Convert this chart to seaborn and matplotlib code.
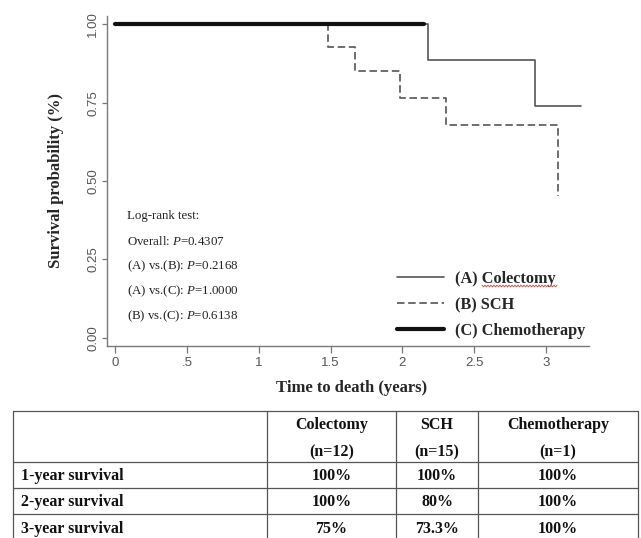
import numpy as np
import seaborn as sns
import matplotlib.pyplot as plt
from matplotlib.lines import Line2D

# Kaplan-Meier step data
times_colectomy = [0.0, 2.18, 2.92, 3.24]
surv_colectomy = [1.0, 0.886, 0.739, 0.739]
times_sch = [0.0, 1.48, 1.67, 1.98, 2.30, 3.08]
surv_sch = [1.0, 0.927, 0.851, 0.765, 0.680, 0.452]
times_chemo = [0.0, 2.15]
surv_chemo = [1.0, 1.0]

legend_labels = ["(A) Colectomy", "(B) SCH", "(C) Chemotherapy"]
x_ticks = [0, 0.5, 1, 1.5, 2, 2.5, 3]
x_tick_labels = ["0", ".5", "1", "1.5", "2", "2.5", "3"]
y_ticks = [0.0, 0.25, 0.5, 0.75, 1.0]
y_tick_labels = ["0.00", "0.25", "0.50", "0.75", "1.00"]

logrank_lines = [
    "Log-rank test:",
    r"Overall: $\it{P}$=0.4307",
    r"(A) vs.(B): $\it{P}$=0.2168",
    r"(A) vs.(C): $\it{P}$=1.0000",
    r"(B) vs.(C): $\it{P}$=0.6138",
]

table_header_top = ["", "Colectomy", "SCH", "Chemotherapy"]
table_header_bottom = ["", "(n=12)", "(n=15)", "(n=1)"]
table_rows = ["1-year survival", "2-year survival", "3-year survival"]
table_colectomy = ["100%", "100%", "75%"]
table_sch = ["100%", "80%", "73.3%"]
table_chemo = ["100%", "100%", "100%"]

sns.set_style("ticks")
plt.rcParams["font.family"] = ["Liberation Serif", "DejaVu Serif"]
plt.rcParams["mathtext.fontset"] = "custom"
plt.rcParams["mathtext.rm"] = "Liberation Serif"
plt.rcParams["mathtext.it"] = "Liberation Serif:italic"

W, H = 641, 538
fig = plt.figure(figsize=(W / 100, H / 100), dpi=100)


def fx(px):
    return px / W


def fy(py):
    return 1 - py / H


ax = fig.add_axes([fx(107), fy(346), (589 - 107) / W, (346 - 15.7) / H])

grey = "#555555"
sns.lineplot(x=times_colectomy, y=surv_colectomy, drawstyle="steps-post", estimator=None,
             sort=False, color=grey, lw=1.2, ax=ax)
sns.lineplot(x=times_sch, y=surv_sch, drawstyle="steps-post", estimator=None,
             sort=False, color=grey, lw=1.2, linestyle=(0, (4.5, 2.2)), ax=ax)
sns.lineplot(x=times_chemo, y=surv_chemo, drawstyle="steps-post", estimator=None,
             sort=False, color="#111111", lw=3.0, ax=ax)

ax.set_xlim(-0.056, 3.2985)
ax.set_ylim(-0.0265, 1.0274)
ax.set_xticks(x_ticks)
ax.set_xticklabels(x_tick_labels, family="Liberation Sans", fontsize=9.5, color="#555555")
ax.set_yticks(y_ticks)
ax.set_yticklabels(y_tick_labels, family="Liberation Sans", fontsize=9.5, color="#555555",
                   rotation=90, va="center")
ax.tick_params(axis="x", length=5, width=0.9, color="#777777", pad=3)
ax.tick_params(axis="y", length=3.5, width=0.9, color="#777777", pad=2)
sns.despine(ax=ax)
for s in ["left", "bottom"]:
    ax.spines[s].set_color("#7a7a7a")
    ax.spines[s].set_linewidth(1.0)

ax.set_xlabel("Time to death (years)", fontsize=12, fontweight="bold")
ax.set_ylabel("Survival probability (%)", fontsize=12, fontweight="bold")
ax.xaxis.set_label_coords(0.508, -0.127)
ax.yaxis.set_label_coords(-0.106, 0.5)
ax.xaxis.label.set_va("center")
ax.yaxis.label.set_va("center")

# log-rank annotations
for i, line in enumerate(logrank_lines):
    fig.text(fx(127), fy(216 + i * 25), line, fontsize=9.3, color="#222222",
             ha="left", va="center")

# legend
handles = [
    Line2D([], [], color=grey, lw=1.2),
    Line2D([], [], color=grey, lw=1.2, linestyle=(0, (4.5, 2.2))),
    Line2D([], [], color="#111111", lw=3.0),
]
leg = ax.legend(handles, legend_labels, loc="lower left", bbox_to_anchor=(fx(397), fy(339)),
                bbox_transform=fig.transFigure, frameon=False, borderpad=0, borderaxespad=0,
                handlelength=2.9, handletextpad=0.65, labelspacing=0.62,
                prop={"family": "Liberation Serif", "weight": "bold", "size": 11.7})

# spell-check squiggle under "Colectomy"
zx = np.arange(482, 558, 1.5)
zy = 286 + np.where(np.arange(len(zx)) % 2 == 0, -0.8, 0.8)
fig.add_artist(Line2D(fx(zx), fy(zy), color="#d05050", lw=0.7))

# table
col_edges = [13, 267, 396, 478, 638]
row_edges = [411, 462, 488, 514, 541]
line_kw = dict(color="#555555", lw=0.9)
for y in row_edges:
    fig.add_artist(Line2D([fx(col_edges[0]), fx(col_edges[-1])], [fy(y), fy(y)], **line_kw))
for x in col_edges:
    fig.add_artist(Line2D([fx(x), fx(x)], [fy(row_edges[0]), fy(row_edges[-1])], **line_kw))

tkw = dict(fontsize=11.5, fontweight="bold", color="#111111", va="center")
centers = [(col_edges[i] + col_edges[i + 1]) / 2 for i in range(len(col_edges) - 1)]
for j in range(1, 4):
    fig.text(fx(centers[j]), fy(425), table_header_top[j], ha="center", **tkw)
    fig.text(fx(centers[j]), fy(452), table_header_bottom[j], ha="center", **tkw)
cols = [table_colectomy, table_sch, table_chemo]
for i, label in enumerate(table_rows):
    yc = (row_edges[i + 1] + row_edges[i + 2]) / 2 + 1.5
    fig.text(fx(21), fy(yc), label, ha="left", **tkw)
    for j, vals in enumerate(cols):
        fig.text(fx(centers[j + 1]), fy(yc), vals[i], ha="center", **tkw)

fig.savefig("out.png", dpi=100)
